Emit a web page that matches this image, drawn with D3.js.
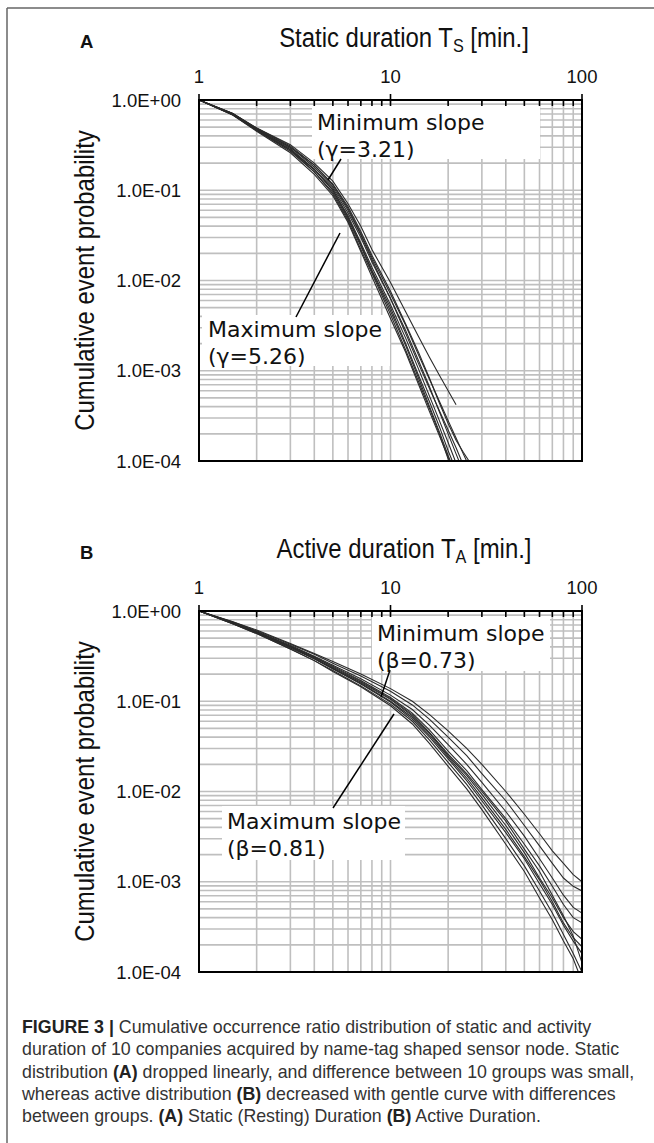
<!DOCTYPE html>
<html>
<head>
<meta charset="utf-8">
<script src="https://cdn.jsdelivr.net/npm/d3@7"></script>
<style>
  html, body { margin: 0; padding: 0; background: #fff; }
  svg { display: block; }
</style>
</head>
<body>
<svg id="fig" width="654" height="1143"></svg>
<script>
/* Figure 3 – cumulative distributions, static (A) and active (B) duration */

const X_TICKS = [1, 10, 100];
const Y_TICKS = [1, 1e-1, 1e-2, 1e-3, 1e-4];
const Y_TICK_LABELS = ["1.0E+00", "1.0E-01", "1.0E-02", "1.0E-03", "1.0E-04"];

/* ---------- A: static duration, 10 groups ---------- */
const STATIC_X = [1, 1.5, 2, 3, 4, 5, 6, 7, 8, 10, 12, 14, 16, 18, 20, 22, 24, 27];
const STATIC_P = [
  [1, .69, .46, .27, .16, .091, .046, .022, .012, .0042, .0017, 7.6e-4, 3.8e-4, 2.0e-4, 1.05e-4, 6.3e-5, null, null],
  [1, .71, .48, .30, .18, .11, .060, .032, .017, .0063, .0026, .0012, 6.3e-4, 3.6e-4, 2.2e-4, 1.4e-4, 9e-5, null],
  [1, .71, .49, .32, .20, .126, .071, .040, .022, .0095, .0045, .0024, .0014, 8.9e-4, 6.0e-4, 4.2e-4, null, null],
  [1, .69, .47, .28, .17, .10, .050, .025, .013, .0050, .0020, 8.9e-4, 4.5e-4, 2.4e-4, 1.3e-4, 7.9e-5, null, null],
  [1, .68, .45, .26, .15, .087, .044, .021, .011, .0038, .0016, 7.1e-4, 3.5e-4, 1.9e-4, 1.1e-4, 7.1e-5, null, null],
  [1, .69, .47, .29, .17, .105, .056, .030, .016, .0063, .0028, .0013, 6.6e-4, 3.5e-4, 2.0e-4, 1.2e-4, 7.6e-5, null],
  [1, .71, .48, .30, .19, .115, .063, .033, .018, .0071, .0032, .0015, 8.0e-4, 4.6e-4, 2.8e-4, 1.8e-4, 1.2e-4, 7e-5],
  [1, .68, .46, .28, .16, .095, .048, .024, .0126, .0046, .0019, 8.3e-4, 4.0e-4, 2.1e-4, 1.15e-4, 7e-5, null, null],
  [1, .69, .47, .28, .17, .10, .052, .026, .014, .0054, .0023, .00105, 5.2e-4, 2.8e-4, 1.6e-4, 9.5e-5, 6.3e-5, null],
  [1, .71, .49, .31, .19, .117, .066, .035, .019, .0076, .0033, .0016, 8.2e-4, 4.4e-4, 2.6e-4, 1.7e-4, 1.25e-4, 8.5e-5],
];

/* ---------- B: active duration, 10 groups ---------- */
const ACTIVE_X = [1, 1.5, 2, 3, 4, 5, 7, 10, 13, 16, 20, 25, 30, 40, 50, 60, 70, 80, 90, 100];
const ACTIVE_P = [
  [1, .759, .617, .437, .339, .275, .200, .138, .100, .071, .047, .030, .020, .010, .0056, .0034, .0022, .0016, .0012, 1.0e-3],
  [1, .759, .603, .427, .331, .263, .191, .129, .091, .063, .040, .025, .0158, .0079, .0042, .0025, .0016, .0011, 8.9e-4, 7.9e-4],
  [1, .741, .589, .417, .316, .251, .178, .117, .081, .054, .033, .020, .0126, .0060, .0032, .0018, .0011, 7.1e-4, 5.2e-4, 4.5e-4],
  [1, .741, .589, .407, .309, .245, .170, .110, .074, .048, .028, .017, .0105, .0050, .0026, .0015, 8.9e-4, 5.6e-4, 4.0e-4, 3.5e-4],
  [1, .741, .575, .398, .302, .234, .162, .105, .069, .044, .025, .0151, .0093, .0042, .0021, .0011, 6.6e-4, 4.0e-4, 2.8e-4, 2.3e-4],
  [1, .724, .575, .389, .295, .229, .155, .098, .063, .040, .023, .0132, .0079, .0035, .0018, 9.5e-4, 5.6e-4, 3.3e-4, 2.2e-4, 1.6e-4],
  [1, .741, .589, .407, .309, .240, .166, .107, .071, .045, .026, .0158, .010, .0047, .0023, .0013, 7.1e-4, 4.2e-4, 2.5e-4, 1.26e-4],
  [1, .724, .562, .380, .282, .219, .148, .093, .060, .037, .021, .0120, .0071, .0030, .0015, 7.9e-4, 4.5e-4, 2.6e-4, 1.6e-4, 1.0e-4],
  [1, .724, .562, .380, .282, .214, .145, .089, .056, .034, .019, .0107, .0063, .0026, .0013, 6.6e-4, 3.8e-4, 2.2e-4, 1.4e-4, 7.9e-5],
  [1, .741, .575, .398, .295, .229, .158, .100, .066, .042, .024, .0141, .0085, .0038, .0019, .00105, 6.0e-4, 3.5e-4, 2.4e-4, 1.9e-4],
];

const CAPTION = [
  [["FIGURE 3 | ", true], ["Cumulative occurrence ratio distribution of static and activity", false]],
  [["duration of 10 companies acquired by name-tag shaped sensor node. Static", false]],
  [["distribution ", false], ["(A)", true], [" dropped linearly, and difference between 10 groups was small,", false]],
  [["whereas active distribution ", false], ["(B)", true], [" decreased with gentle curve with differences", false]],
  [["between groups. ", false], ["(A)", true], [" Static (Resting) Duration ", false], ["(B)", true], [" Active Duration.", false]],
];

const GRID = "#bfbfbf";
const SANS = "'Liberation Sans', Arial, sans-serif";
const NOTE_FONT = "'DejaVu Sans', Verdana, sans-serif";
const NARROW = 0.855; // axis titles are set in a condensed face

const svg = d3.select("#fig");

// figure frame (top + left only)
svg.append("line").attr("x1", 7).attr("y1", 8).attr("x2", 654).attr("y2", 8)
  .attr("stroke", "#666").attr("stroke-width", 1.5);
svg.append("line").attr("x1", 7).attr("y1", 8).attr("x2", 7).attr("y2", 1143)
  .attr("stroke", "#666").attr("stroke-width", 1.5);

/* ---------- panel factory ---------- */
function drawPanel({ id, top, letter, title, sub, xs, series, notes }) {
  const left = 199, right = 582, bottom = top + 361;
  const x = d3.scaleLog().domain([1, 100]).range([left, right]);
  const y = d3.scaleLog().domain([1e-4, 1]).range([bottom, top]);
  const g = svg.append("g");

  // grid
  g.append("g").selectAll("line").data(x.ticks().filter(d => d > 1 && d < 100))
    .join("line")
    .attr("x1", d => x(d)).attr("x2", d => x(d))
    .attr("y1", top).attr("y2", bottom)
    .attr("stroke", GRID).attr("stroke-width", 1.6);
  g.append("g").selectAll("line").data(y.ticks().filter(d => d > 1.5e-4 && d < 0.99))
    .join("line")
    .attr("x1", left).attr("x2", right)
    .attr("y1", d => y(d)).attr("y2", d => y(d))
    .attr("stroke", GRID).attr("stroke-width", 1.6);

  // white label boxes
  for (const n of notes) {
    g.append("rect").attr("x", n.box[0]).attr("y", n.box[1])
      .attr("width", n.box[2]).attr("height", n.box[3]).attr("fill", "#fff");
  }

  // curves
  g.append("clipPath").attr("id", `clip-${id}`)
    .append("rect").attr("x", left).attr("y", top)
    .attr("width", right - left).attr("height", bottom - top);
  const line = d3.line()
    .defined(d => d[1] != null)
    .x(d => x(d[0])).y(d => y(d[1]));
  g.append("g").attr("clip-path", `url(#clip-${id})`)
    .selectAll("path").data(series)
    .join("path")
    .attr("d", s => line(xs.map((v, i) => [v, s[i]])))
    .attr("fill", "none").attr("stroke", "#2a2a2a").attr("stroke-width", 1.1);

  // frame + ticks
  g.append("rect").attr("x", left).attr("y", top)
    .attr("width", right - left).attr("height", bottom - top)
    .attr("fill", "none").attr("stroke", "#000").attr("stroke-width", 2);
  g.append("g").selectAll("line").data(x.ticks())
    .join("line")
    .attr("x1", d => x(d)).attr("x2", d => x(d))
    .attr("y1", d => (X_TICKS.includes(d) ? top - 6 : top))
    .attr("y2", d => top + 6)
    .attr("stroke", "#000").attr("stroke-width", 1.6);

  // tick labels
  g.append("g").selectAll("text").data(X_TICKS)
    .join("text")
    .attr("x", d => x(d)).attr("y", top - 17)
    .attr("text-anchor", "middle")
    .attr("font-family", SANS).attr("font-size", 18.5).attr("fill", "#111")
    .text(d => d);
  g.append("g").selectAll("text").data(Y_TICKS)
    .join("text")
    .attr("x", 181).attr("y", d => y(d)).attr("dy", "0.36em")
    .attr("text-anchor", "end")
    .attr("font-family", SANS).attr("font-size", 18.5).attr("fill", "#111")
    .text((d, i) => Y_TICK_LABELS[i]);

  // titles
  const t = g.append("text")
    .attr("transform", `translate(404,${top - 53}) scale(${NARROW},1)`)
    .attr("text-anchor", "middle")
    .attr("font-family", SANS).attr("font-size", 28).attr("fill", "#111");
  t.append("tspan").text(title);
  t.append("tspan").attr("font-size", 19).attr("dy", 5).text(sub);
  t.append("tspan").attr("dy", -5).text(" [min.]");

  g.append("text").attr("x", 80).attr("y", top - 52)
    .attr("font-family", SANS).attr("font-weight", "bold").attr("font-size", 18.5)
    .attr("fill", "#111").text(letter);

  g.append("text")
    .attr("transform", `translate(94,${(top + bottom) / 2}) rotate(-90) scale(${NARROW},1)`)
    .attr("text-anchor", "middle")
    .attr("font-family", SANS).attr("font-size", 28).attr("fill", "#111")
    .text("Cumulative event probability");

  // annotations
  for (const n of notes) {
    g.append("line")
      .attr("x1", n.lead[0]).attr("y1", n.lead[1])
      .attr("x2", n.lead[2]).attr("y2", n.lead[3])
      .attr("stroke", "#000").attr("stroke-width", 1.5);
    n.lines.forEach((s, i) => {
      g.append("text").attr("x", n.tx).attr("y", n.ty + i * 27)
        .attr("font-family", NOTE_FONT).attr("font-size", 22).attr("fill", "#111")
        .text(s);
    });
  }
}

drawPanel({
  id: "a", top: 100, letter: "A", title: "Static duration T", sub: "S",
  xs: STATIC_X, series: STATIC_P,
  notes: [
    { box: [312, 105, 228, 54], tx: 317, ty: 130, lines: ["Minimum slope", "(γ=3.21)"], lead: [341, 159, 328, 180] },
    { box: [202, 315, 188, 51], tx: 208, ty: 337, lines: ["Maximum slope", "(γ=5.26)"], lead: [296, 317, 340, 233] },
  ],
});

drawPanel({
  id: "b", top: 611, letter: "B", title: "Active duration T", sub: "A",
  xs: ACTIVE_X, series: ACTIVE_P,
  notes: [
    { box: [372, 616, 178, 55], tx: 377, ty: 641, lines: ["Minimum slope", "(β=0.73)"], lead: [390, 670, 381, 697] },
    { box: [222, 806, 183, 54], tx: 227, ty: 829, lines: ["Maximum slope", "(β=0.81)"], lead: [333, 808, 394, 714] },
  ],
});

/* ---------- caption ---------- */
const cap = svg.append("g").attr("font-family", SANS).attr("font-size", 17.8).attr("fill", "#333");
CAPTION.forEach((segs, i) => {
  const txt = cap.append("text").attr("x", 22).attr("y", 1033 + i * 22.3);
  for (const [s, bold] of segs) {
    txt.append("tspan").attr("font-weight", bold ? "bold" : null)
      .attr("fill", bold ? "#222" : null).text(s);
  }
});
</script>
</body>
</html>
